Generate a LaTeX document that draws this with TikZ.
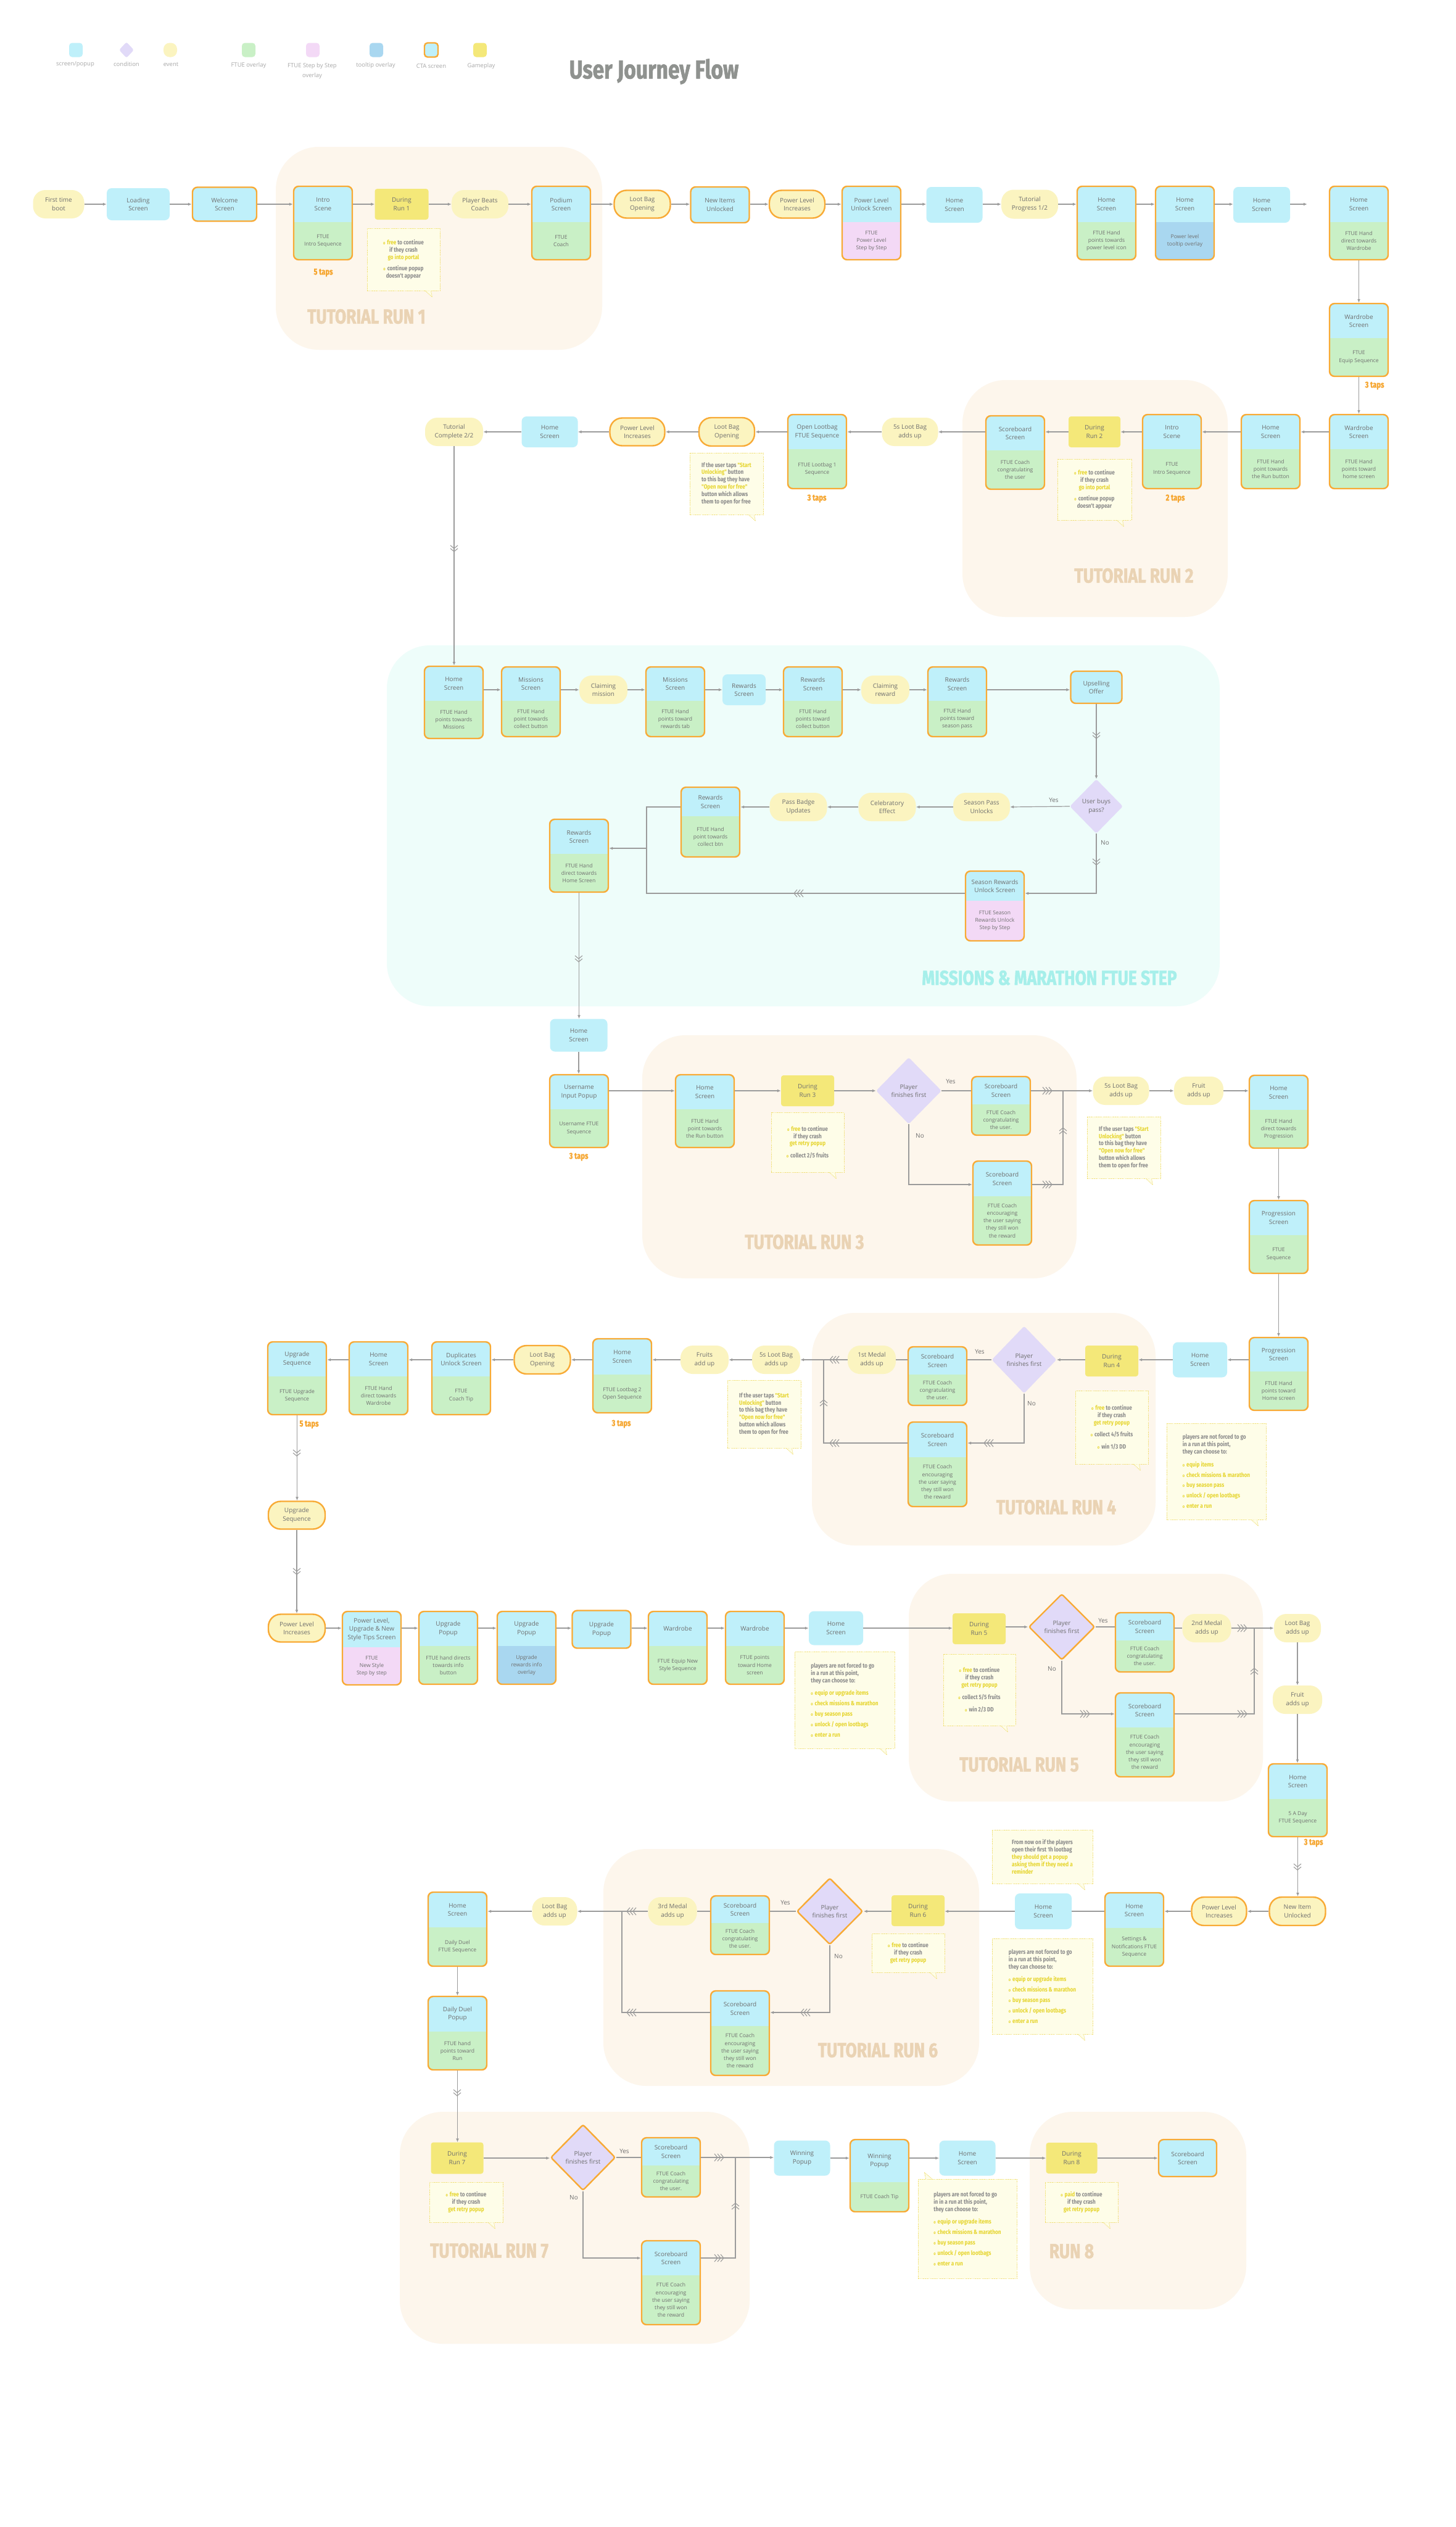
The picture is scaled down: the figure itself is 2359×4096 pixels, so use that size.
\documentclass[tikz,border=0pt]{standalone}
\usepackage{fontspec}
\setmainfont{Open Sans}
\newfontfamily\condfont[FakeStretch=0.82]{Fira Sans}
\newfontfamily\headfont[FakeStretch=0.8,FakeBold=1.5]{Fira Sans}
\usetikzlibrary{shapes.geometric,arrows.meta}

\definecolor{cScr}{HTML}{BFF0FA}
\definecolor{cFtue}{HTML}{C9F0C6}
\definecolor{cPink}{HTML}{F3D9F6}
\definecolor{cTip}{HTML}{A9D7F0}
\definecolor{cEvt}{HTML}{FBF4C0}
\definecolor{cGame}{HTML}{F4E879}
\definecolor{cCond}{HTML}{E1DAF8}
\definecolor{cCta}{HTML}{F8AA35}
\definecolor{cLine}{HTML}{9B9B9B}
\definecolor{cRunBg}{HTML}{FDF6EC}
\definecolor{cMisBg}{HTML}{EEFDFA}
\definecolor{cNoteF}{HTML}{FEFDE8}
\definecolor{cNoteB}{HTML}{F0DE70}
\definecolor{cTxt}{HTML}{6F6F6F}
\definecolor{cHl}{HTML}{E6D52E}
\definecolor{cNoteT}{HTML}{8A8A8A}
\definecolor{cRunL}{HTML}{EAD3B4}
\definecolor{cMisL}{HTML}{A6EFEA}
\definecolor{cTaps}{HTML}{F6A630}
\definecolor{cTitle}{HTML}{8F928F}
\definecolor{cLeg}{HTML}{A9A9A9}

\newcommand{\ttlf}{\fontsize{10}{13.5}\selectfont}
\newcommand{\dscf}{\fontsize{8.6}{12.2}\selectfont}
\newcommand{\notefnt}{\condfont\bfseries\fontsize{10}{11.8}\selectfont}
\newcommand{\bul}{{\color{cHl}\fontsize{7}{7}\selectfont o}\hspace{3pt}}
\newcommand{\hlt}[1]{{\color{cHl}#1}}

\tikzset{
 base/.style={inner sep=0pt, align=center, text=cTxt, font=\ttlf},
 scrn/.style={base, fill=cScr, rounded corners=8pt},
 evt/.style={base, fill=cEvt, rounded corners=20pt},
 game/.style={base, fill=cGame, rounded corners=4pt},
 cond/.style={base, diamond, fill=cCond, rounded corners=3pt},
 cta/.style={draw=cCta, line width=2.4pt},
 nob/.style={},
 dsc/.style={base, font=\dscf},
 conn/.style={draw=cLine, line width=1.2pt},
 arr/.style={conn, -{Latex[length=6pt,width=5pt]}},
 notebox/.style={fill=cNoteF, draw=cNoteB, line width=0.9pt, dash pattern=on 1.6pt off 1.2pt, inner sep=0pt},
 notetxt/.style={inner sep=0pt, text=cNoteT, font=\notefnt},
 taps/.style={text=cTaps, font=\headfont\bfseries\fontsize{14}{14}\selectfont},
 runlbl/.style={text=cRunL, font=\headfont\bfseries\fontsize{33}{33}\selectfont},
 yn/.style={text=cTxt, font=\ttlf},
 leg/.style={text=cLeg, font=\fontsize{9.5}{16}\selectfont, align=center},
 legsw/.style={inner sep=0pt, minimum width=22pt, minimum height=23pt, rounded corners=5pt},
}

% two-part box: name, left x, top y, mid y, bottom y, bottom colour, title, description, border
\newcommand{\twobox}[9]{%
  \begin{scope}
    \clip[rounded corners=8pt] (#2,#3) rectangle ({#2+95},#5);
    \fill[cScr] (#2,#3) rectangle ({#2+95},#4);
    \fill[#6] (#2,#4) rectangle ({#2+95},#5);
  \end{scope}
  \node[#9, rounded corners=8pt, inner sep=0pt, minimum width=95pt, minimum height={#5-#3}] (#1) at ({#2+47.5},{(#3+#5)/2}) {};
  \node[base, minimum width=95pt, minimum height={#4-#3}] (#1h) at ({#2+47.5},{(#3+#4)/2}) {#7};
  \node[dsc] at ({#2+47.5},{(#4+#5)/2}) {#8};
}
% single box: name, style, cx, cy, w, h, text
\newcommand{\onebx}[7]{\node[#2, minimum width=#5pt, minimum height=#6pt] (#1) at (#3,#4) {#7};}
% note: name, x1, y1, x2, y2, align, text
\newcommand{\notebx}[7]{%
  \node[notebox, minimum width={#4-#2}, minimum height={#5-#3}] (#1) at ({(#2+#4)/2},{(#3+#5)/2}) {};
  \node[notetxt, #6] at (#1.center) {#7};
}
\newcommand{\tailbr}[1]{\draw[cNoteB, line width=0.8pt, dash pattern=on 1.5pt off 1pt, fill=cNoteF] ([xshift=-24pt]#1.south east) -- ([xshift=-13pt,yshift=-10pt]#1.south east) -- ([xshift=-15pt]#1.south east);}
\newcommand{\tailtl}[1]{\draw[cNoteB, line width=0.8pt, dash pattern=on 1.5pt off 1pt, fill=cNoteF] ([xshift=13pt]#1.north west) -- ([xshift=11pt,yshift=10pt]#1.north west) -- ([xshift=23pt]#1.north west);}
% chevron marks: x, y, rotation, count
\newcommand{\chv}[4]{\begin{scope}[shift={(#1,#2)},rotate=#3]\foreach \k in {1,...,#4}{\draw[cLine,line width=1.1pt] ({(\k-1)*5-6},-6) -- ({(\k-1)*5-1},0) -- ({(\k-1)*5-6},6);}\end{scope}}

\newcommand{\noteA}{\bul\hlt{free} to continue\\ if they crash\\ \hlt{go into portal}\\[6pt] \bul continue popup\\ doesn't appear}
\newcommand{\noteC}{If the user taps \hlt{"Start}\\ \hlt{Unlocking"} button\\ to this bag they have\\ \hlt{"Open now for free"}\\ button which allows\\ them to open for free}
\newcommand{\retry}{\bul\hlt{free} to continue\\ if they crash\\ \hlt{get retry popup}}
\newcommand{\congr}{FTUE Coach\\congratulating\\the user.}
\newcommand{\encour}{FTUE Coach\\encouraging\\the user saying\\they still won\\the reward}

\begin{document}
\begin{tikzpicture}[x=1pt,y=-1pt]
\useasboundingbox (0,0) rectangle (2359,4096);
\fill[white] (0,0) rectangle (2359,4096);

% ---------- backgrounds ----------
\fill[cRunBg, rounded corners=70pt] (447,238) rectangle (976,567);
\fill[cRunBg, rounded corners=70pt] (1560,616) rectangle (1990,1000);
\fill[cMisBg, rounded corners=70pt] (627,1046) rectangle (1977,1631);
\fill[cRunBg, rounded corners=70pt] (1041,1678) rectangle (1745,2072);
\fill[cRunBg, rounded corners=70pt] (1316,2128) rectangle (1873,2505);
\fill[cRunBg, rounded corners=70pt] (1473,2551) rectangle (2047,2920);
\fill[cRunBg, rounded corners=70pt] (978,2997) rectangle (1587,3381);
\fill[cRunBg, rounded corners=70pt] (648,3423) rectangle (1215,3799);
\fill[cRunBg, rounded corners=70pt] (1669,3423) rectangle (2020,3743);

\node[runlbl] at (594,513) {TUTORIAL RUN 1};
\node[runlbl] at (1838,933) {TUTORIAL RUN 2};
\node[text=cMisL, font=\headfont\bfseries\fontsize{33}{33}\selectfont] at (1701,1585) {MISSIONS \& MARATHON FTUE STEP};
\node[runlbl] at (1304,2013) {TUTORIAL RUN 3};
\node[runlbl] at (1712,2443) {TUTORIAL RUN 4};
\node[runlbl] at (1652,2860) {TUTORIAL RUN 5};
\node[runlbl] at (1423,3323) {TUTORIAL RUN 6};
\node[runlbl] at (793,3648) {TUTORIAL RUN 7};
\node[runlbl] at (1737,3649) {RUN 8};

% ---------- legend & title ----------
\node[legsw, fill=cScr] (lg1) at (123,81) {};
\node[cond, minimum width=24pt, minimum height=26pt] (lg2) at (205,81) {};
\node[legsw, fill=cEvt, rounded corners=10pt] (lg3) at (276,81) {};
\node[legsw, fill=cFtue] (lg4) at (403,81) {};
\node[legsw, fill=cPink] (lg5) at (507,81) {};
\node[legsw, fill=cTip] (lg6) at (610,81) {};
\node[legsw, fill=cScr, cta] (lg7) at (699,81) {};
\node[legsw, fill=cGame] (lg8) at (778,81) {};
\node[leg] at (122,104) {screen/popup};
\node[leg] at (205,104) {condition};
\node[leg] at (277,104) {event};
\node[leg] at (403,106) {FTUE overlay};
\node[leg, anchor=north] at (506,99) {FTUE Step by Step\\overlay};
\node[leg] at (609,106) {tooltip overlay};
\node[leg] at (699,107) {CTA screen};
\node[leg] at (780,107) {Gameplay};
\node[text=cTitle, font=\headfont\bfseries\fontsize{42}{42}\selectfont] (title) at (1060,116) {User Journey Flow};

% ---------- row 1 ----------
\onebx{boot}{evt}{95}{331}{83}{46}{First time\\boot}
\onebx{loading}{scrn}{224}{331}{102}{52}{Loading\\Screen}
\onebx{welcome}{scrn,cta}{364}{331}{104}{55}{Welcome\\Screen}
\twobox{intro1}{476}{302}{360}{421}{cFtue}{Intro\\Scene}{FTUE\\Intro Sequence}{cta}
\onebx{run1}{game}{651}{331}{87}{50}{During\\Run 1}
\onebx{beats}{evt}{778}{331}{92}{46}{Player Beats\\Coach}
\twobox{podium}{862}{302}{360}{421}{cFtue}{Podium\\Screen}{FTUE\\Coach}{cta}
\onebx{lootbag1}{evt,cta}{1041}{331}{91}{45}{Loot Bag\\Opening}
\onebx{newitems}{scrn,cta}{1167}{332}{95}{58}{New Items\\Unlocked}
\onebx{power1}{evt,cta}{1292}{331}{90}{45}{Power Level\\Increases}
\twobox{plunlock}{1365}{302}{360}{421}{cPink}{Power Level\\Unlock Screen}{FTUE\\Power Level\\Step by Step}{cta}
\onebx{home1}{scrn}{1547}{332}{91}{58}{Home\\Screen}
\onebx{progress}{evt}{1669}{331}{92}{47}{Tutorial\\Progress 1/2}
\twobox{home2}{1746}{302}{360}{421}{cFtue}{Home\\Screen}{FTUE Hand\\points towards\\power level icon}{cta}
\twobox{home3}{1873}{302}{360}{421}{cTip}{Home\\Screen}{Power level\\tooltip overlay}{cta}
\onebx{home4}{scrn}{2045}{332}{92}{58}{Home\\Screen}
\twobox{home5}{2155}{302}{360}{421}{cFtue}{Home\\Screen}{FTUE Hand\\direct towards\\Wardrobe}{cta}
\twobox{wardrobe1}{2155}{492}{548}{610}{cFtue}{Wardrobe\\Screen}{FTUE\\Equip Sequence}{cta}
\node[taps] at (524,442) {5 taps};
\node[taps] at (2228,625) {3 taps};
\notebx{n1}{595}{370}{713}{471}{align=center}{\noteA}
\tailbr{n1}

% ---------- row 2 ----------
\twobox{wardrobe2}{2155}{672}{728}{792}{cFtue}{Wardrobe\\Screen}{FTUE Hand\\points toward\\home screen}{cta}
\twobox{home6}{2012}{672}{728}{792}{cFtue}{Home\\Screen}{FTUE Hand\\point towards\\the Run button}{cta}
\twobox{intro2}{1852}{672}{728}{792}{cFtue}{Intro\\Scene}{FTUE\\Intro Sequence}{cta}
\onebx{run2}{game}{1774}{700}{84}{50}{During\\Run 2}
\twobox{score2}{1598}{674}{730}{793}{cFtue}{Scoreboard\\Screen}{FTUE Coach\\congratulating\\the user}{cta}
\onebx{loot5s2}{evt}{1475}{700}{91}{46}{5s Loot Bag\\adds up}
\twobox{openloot}{1277}{672}{728}{792}{cFtue}{Open Lootbag\\FTUE Sequence}{FTUE Lootbag 1\\Sequence}{cta}
\onebx{lootbag2}{evt,cta}{1178}{700}{90}{46}{Loot Bag\\Opening}
\onebx{power2}{evt,cta}{1033}{700}{89}{45}{Power Level\\Increases}
\onebx{home7}{scrn}{891}{700}{91}{50}{Home\\Screen}
\onebx{complete}{evt}{736}{700}{94}{46}{Tutorial\\Complete 2/2}
\node[taps] at (1905,808) {2 taps};
\node[taps] at (1324,808) {3 taps};
\notebx{n2}{1714}{744}{1834}{843}{align=center}{\noteA}
\tailbr{n2}
\notebx{n3}{1118}{734}{1237}{834}{align=left}{\noteC}
\tailbr{n3}

% ---------- missions ----------
\twobox{mhome}{688}{1080}{1136}{1197}{cFtue}{Home\\Screen}{FTUE Hand\\points towards\\Missions}{cta}
\twobox{miss1}{813}{1081}{1136}{1194}{cFtue}{Missions\\Screen}{FTUE Hand\\point towards\\collect button}{cta}
\onebx{claimm}{evt}{978}{1118}{78}{46}{Claiming\\mission}
\twobox{miss2}{1047}{1081}{1136}{1194}{cFtue}{Missions\\Screen}{FTUE Hand\\points toward\\rewards tab}{cta}
\onebx{rew1}{scrn}{1206}{1118}{70}{50}{Rewards\\Screen}
\twobox{rew2}{1270}{1081}{1136}{1194}{cFtue}{Rewards\\Screen}{FTUE Hand\\points toward\\collect button}{cta}
\onebx{claimr}{evt}{1435}{1118}{78}{46}{Claiming\\reward}
\twobox{rew3}{1504}{1081}{1136}{1194}{cFtue}{Rewards\\Screen}{FTUE Hand\\points toward\\season pass}{cta}
\onebx{upsell}{scrn,cta}{1777}{1114}{83}{52}{Upselling\\Offer}
\onebx{buys}{cond}{1777}{1307}{86}{88}{User buys\\pass?}
\onebx{spass}{evt}{1591}{1308}{92}{46}{Season Pass\\Unlocks}
\onebx{celeb}{evt}{1438}{1308}{93}{46}{Celebratory\\Effect}
\onebx{badge}{evt}{1294}{1308}{93}{46}{Pass Badge\\Updates}
\twobox{rew4}{1104}{1276}{1323}{1389}{cFtue}{Rewards\\Screen}{FTUE Hand\\point towards\\collect btn}{cta}
\twobox{rew5}{891}{1328}{1384}{1446}{cFtue}{Rewards\\Screen}{FTUE Hand\\direct towards\\Home Screen}{cta}
\twobox{season}{1565}{1412}{1460}{1525}{cPink}{Season Rewards\\Unlock Screen}{FTUE Season\\Rewards Unlock\\Step by Step}{cta}
\node[yn] at (1708,1297) {Yes};
\node[yn] at (1791,1366) {No};

% ---------- run 3 ----------
\onebx{home8}{scrn}{938}{1678}{93}{53}{Home\\Screen}
\twobox{username}{891}{1742}{1798}{1860}{cFtue}{Username\\Input Popup}{Username FTUE\\Sequence}{cta}
\twobox{home9}{1095}{1742}{1798}{1860}{cFtue}{Home\\Screen}{FTUE Hand\\point towards\\the Run button}{cta}
\onebx{run3}{game}{1309}{1768}{86}{50}{During\\Run 3}
\onebx{d3}{cond}{1473}{1768}{106}{108}{Player\\finishes first}
\twobox{s3a}{1575}{1745}{1790}{1840}{cFtue}{Scoreboard\\Screen}{\congr}{cta}
\twobox{s3b}{1577}{1882}{1939}{2018}{cFtue}{Scoreboard\\Screen}{\encour}{cta}
\onebx{loot5s3}{evt}{1817}{1768}{91}{46}{5s Loot Bag\\adds up}
\onebx{fruit3}{evt}{1943}{1768}{80}{46}{Fruit\\adds up}
\twobox{home10}{2025}{1743}{1799}{1861}{cFtue}{Home\\Screen}{FTUE Hand\\direct towards\\Progression}{cta}
\twobox{prog1}{2025}{1946}{2002}{2064}{cFtue}{Progression\\Screen}{FTUE\\Sequence}{cta}
\node[taps] at (938,1875) {3 taps};
\notebx{n4}{1250}{1803}{1368}{1900}{align=center}{\retry\\[8pt] \bul collect 2/5 fruits}
\tailbr{n4}
\notebx{n5}{1762}{1810}{1881}{1910}{align=left}{\noteC}
\tailbr{n5}
\node[yn] at (1541,1753) {Yes};
\node[yn] at (1491,1841) {No};

% ---------- run 4 ----------
\twobox{prog2}{2025}{2168}{2223}{2286}{cFtue}{Progression\\Screen}{FTUE Hand\\points toward\\Home screen}{cta}
\onebx{home11}{scrn}{1945}{2204}{88}{57}{Home\\Screen}
\onebx{run4}{game}{1802}{2206}{86}{50}{During\\Run 4}
\onebx{d4}{cond}{1660}{2204}{105}{109}{Player\\finishes first}
\twobox{s4a}{1472}{2183}{2228}{2278}{cFtue}{Scoreboard\\Screen}{\congr}{cta}
\twobox{s4b}{1472}{2305}{2362}{2442}{cFtue}{Scoreboard\\Screen}{\encour}{cta}
\onebx{medal1}{evt}{1413}{2204}{78}{46}{1st Medal\\adds up}
\onebx{loot5s4}{evt}{1258}{2204}{78}{46}{5s Loot Bag\\adds up}
\onebx{fruits4}{evt}{1142}{2204}{78}{46}{Fruits\\add up}
\twobox{home12}{961}{2170}{2228}{2290}{cFtue}{Home\\Screen}{FTUE Lootbag 2\\Open Sequence}{cta}
\onebx{lootbag3}{evt,cta}{879}{2204}{91}{46}{Loot Bag\\Opening}
\twobox{dup}{700}{2175}{2231}{2293}{cFtue}{Duplicates\\Unlock Screen}{FTUE\\Coach Tip}{cta}
\twobox{home13}{566}{2175}{2231}{2293}{cFtue}{Home\\Screen}{FTUE Hand\\direct towards\\Wardrobe}{cta}
\twobox{upg1}{434}{2175}{2231}{2293}{cFtue}{Upgrade\\Sequence}{FTUE Upgrade\\Sequence}{cta}
\onebx{upg2}{evt,cta}{481}{2456}{92}{45}{Upgrade\\Sequence}
\node[taps] at (1007,2308) {3 taps};
\node[taps] at (501,2309) {5 taps};
\notebx{n6}{1743}{2254}{1861}{2373}{align=center}{\retry\\[8pt] \bul collect 4/5 fruits\\[8pt] \bul win 1/3 DD}
\tailbr{n6}
\notebx{n7}{1179}{2237}{1298}{2347}{align=left}{\noteC}
\tailbr{n7}
\notebx{n8}{1891}{2307}{2052}{2463}{align=left}{players are not forced to go\\ in a run at this point,\\ they can choose to:\\[9pt] \bul\hlt{equip items}\\[5pt] \bul\hlt{check missions \& marathon}\\[5pt] \bul\hlt{buy season pass}\\[5pt] \bul\hlt{unlock / open lootbags}\\[5pt] \bul\hlt{enter a run}}
\tailbr{n8}
\node[yn] at (1588,2191) {Yes};
\node[yn] at (1672,2275) {No};

% ---------- row 5 ----------
\onebx{power3}{evt,cta}{481}{2639}{92}{45}{Power Level\\Increases}
\twobox{tips}{555}{2612}{2670}{2731}{cPink}{Power Level,\\Upgrade \& New\\Style Tips Screen}{FTUE\\New Style\\Step by step}{cta}
\twobox{up1}{679}{2612}{2668}{2730}{cFtue}{Upgrade\\Popup}{FTUE hand directs\\towards info\\button}{cta}
\twobox{up2}{806}{2612}{2668}{2730}{cTip}{Upgrade\\Popup}{Upgrade\\rewards info\\overlay}{cta}
\onebx{up3}{scrn,cta}{975}{2641}{95}{61}{Upgrade\\Popup}
\twobox{ward2}{1051}{2612}{2668}{2730}{cFtue}{Wardrobe}{FTUE Equip New\\Style Sequence}{cta}
\twobox{ward3}{1176}{2612}{2668}{2730}{cFtue}{Wardrobe}{FTUE points\\toward Home\\screen}{cta}
\onebx{home14}{scrn}{1355}{2639}{88}{55}{Home\\Screen}
\notebx{n9}{1288}{2677}{1450}{2834}{align=left}{players are not forced to go\\ in a run at this point,\\ they can choose to:\\[9pt] \bul\hlt{equip or upgrade items}\\[5pt] \bul\hlt{check missions \& marathon}\\[5pt] \bul\hlt{buy season pass}\\[5pt] \bul\hlt{unlock / open lootbags}\\[5pt] \bul\hlt{enter a run}}
\tailbr{n9}
\onebx{run5}{game}{1587}{2640}{86}{50}{During\\Run 5}
\notebx{n10}{1529}{2681}{1646}{2797}{align=center}{\retry\\[8pt] \bul collect 5/5 fruits\\[8pt] \bul win 2/3 DD}
\tailbr{n10}
\onebx{d5}{cond,cta}{1721}{2637}{107}{107}{Player\\finishes first}
\twobox{s5a}{1808}{2614}{2659}{2710}{cFtue}{Scoreboard\\Screen}{\congr}{cta}
\twobox{s5b}{1808}{2744}{2800}{2880}{cFtue}{Scoreboard\\Screen}{\encour}{cta}
\onebx{medal2}{evt}{1956}{2639}{79}{46}{2nd Medal\\adds up}
\onebx{lootup5}{evt}{2103}{2639}{76}{46}{Loot Bag\\adds up}
\onebx{fruit5}{evt}{2103}{2755}{80}{46}{Fruit\\adds up}
\twobox{home15}{2056}{2859}{2916}{2977}{cFtue}{Home\\Screen}{5 A Day\\FTUE Sequence}{cta}
\node[taps] at (2129,2987) {3 taps};
\node[yn] at (1788,2627) {Yes};
\node[yn] at (1705,2705) {No};

% ---------- row 6 ----------
\notebx{n11}{1608}{2966}{1771}{3053}{align=left}{From now on if the players\\ open their first 1h lootbag\\ \hlt{they should get a popup}\\ \hlt{asking them if they need a}\\ \hlt{reminder}}
\tailbr{n11}
\onebx{newitem}{evt,cta}{2103}{3098}{91}{46}{New Item\\Unlocked}
\onebx{power4}{evt,cta}{1976}{3098}{89}{46}{Power Level\\Increases}
\twobox{home16}{1791}{3068}{3125}{3187}{cFtue}{Home\\Screen}{Settings \&\\Notifications FTUE\\Sequence}{cta}
\onebx{home17}{scrn}{1691}{3098}{92}{58}{Home\\Screen}
\notebx{n12}{1608}{3142}{1771}{3297}{align=left}{players are not forced to go\\ in a run at this point,\\ they can choose to:\\[9pt] \bul\hlt{equip or upgrade items}\\[5pt] \bul\hlt{check missions \& marathon}\\[5pt] \bul\hlt{buy season pass}\\[5pt] \bul\hlt{unlock / open lootbags}\\[5pt] \bul\hlt{enter a run}}
\tailbr{n12}
\onebx{run6}{game}{1488}{3097}{86}{50}{During\\Run 6}
\notebx{n13}{1413}{3134}{1531}{3197}{align=center}{\retry}
\tailbr{n13}
\onebx{d6}{cond,cta}{1345}{3098}{107}{108}{Player\\finishes first}
\twobox{s6a}{1152}{3073}{3117}{3168}{cFtue}{Scoreboard\\Screen}{\congr}{cta}
\twobox{s6b}{1152}{3227}{3284}{3364}{cFtue}{Scoreboard\\Screen}{\encour}{cta}
\onebx{medal3}{evt}{1090}{3098}{79}{46}{3rd Medal\\adds up}
\onebx{lootup6}{evt}{899}{3098}{73}{46}{Loot Bag\\adds up}
\twobox{home18}{694}{3067}{3124}{3187}{cFtue}{Home\\Screen}{Daily Duel\\FTUE Sequence}{cta}
\twobox{duel}{694}{3236}{3293}{3355}{cFtue}{Daily Duel\\Popup}{FTUE hand\\points toward\\Run}{cta}
\node[yn] at (1273,3084) {Yes};
\node[yn] at (1359,3171) {No};

% ---------- row 7 ----------
\onebx{run7}{game}{741}{3498}{85}{51}{During\\Run 7}
\notebx{n14}{696}{3537}{815}{3602}{align=center}{\retry}
\tailbr{n14}
\onebx{d7}{cond,cta}{945}{3497}{105}{107}{Player\\finishes first}
\twobox{s7a}{1040}{3465}{3510}{3561}{cFtue}{Scoreboard\\Screen}{\congr}{cta}
\twobox{s7b}{1040}{3632}{3688}{3768}{cFtue}{Scoreboard\\Screen}{\encour}{cta}
\onebx{win1}{scrn}{1300}{3498}{91}{57}{Winning\\Popup}
\twobox{win2}{1378}{3468}{3537}{3585}{cFtue}{Winning\\Popup}{FTUE Coach Tip}{cta}
\onebx{home19}{scrn}{1568}{3498}{91}{57}{Home\\Screen}
\notebx{n15}{1488}{3532}{1648}{3693}{align=left}{players are not forced to go\\ in in a run at this point,\\ they can choose to:\\[9pt] \bul\hlt{equip or upgrade items}\\[5pt] \bul\hlt{check missions \& marathon}\\[5pt] \bul\hlt{buy season pass}\\[5pt] \bul\hlt{unlock / open lootbags}\\[5pt] \bul\hlt{enter a run}}
\tailtl{n15}
\onebx{run8}{game}{1737}{3498}{83}{50}{During\\Run 8}
\notebx{n16}{1694}{3537}{1812}{3602}{align=center}{\bul\hlt{paid} to continue\\ if they crash\\ \hlt{get retry popup}}
\tailbr{n16}
\onebx{score8}{scrn,cta}{1925}{3498}{94}{60}{Scoreboard\\Screen}
\node[yn] at (1012,3487) {Yes};
\node[yn] at (930,3562) {No};

% ================= connectors =================
% row 1
\draw[arr] (boot.east) -- (loading.west |- boot.east);
\draw[arr] (loading.east) -- (welcome.west |- loading.east);
\draw[arr] (welcome.east) -- (intro1.west |- welcome.east);
\draw[arr] (intro1.east |- run1.west) -- (run1.west);
\draw[arr] (run1.east) -- (beats.west |- run1.east);
\draw[arr] (beats.east) -- (podium.west |- beats.east);
\draw[arr] (podium.east |- lootbag1.west) -- (lootbag1.west);
\draw[arr] (lootbag1.east) -- (newitems.west |- lootbag1.east);
\draw[arr] (newitems.east |- power1.west) -- (power1.west);
\draw[arr] (power1.east) -- (plunlock.west |- power1.east);
\draw[arr] (plunlock.east |- power1.east) -- (home1.west |- power1.east);
\draw[arr] (home1.east |- progress.west) -- (progress.west);
\draw[arr] (progress.east) -- (home2.west |- progress.east);
\draw[arr] (home2.east |- progress.east) -- (home3.west |- progress.east);
\draw[arr] (home3.east |- progress.east) -- (home4.west |- progress.east);
\draw[arr, shorten >=35pt] (home4.east |- progress.east) -- (home5.west |- progress.east);
\draw[arr] (home5.south) -- (wardrobe1.north);
\draw[arr] (wardrobe1.south) -- (wardrobe2.north);

% row 2
\draw[arr] (wardrobe2.west |- run2.east) -- (home6.east |- run2.east);
\draw[arr] (home6.west |- run2.east) -- (intro2.east |- run2.east);
\draw[arr] (intro2.west |- run2.east) -- (run2.east);
\draw[arr] (run2.west) -- (score2.east |- run2.west);
\draw[arr] (score2.west |- loot5s2.east) -- (loot5s2.east);
\draw[arr] (loot5s2.west) -- (openloot.east |- loot5s2.west);
\draw[arr] (openloot.west |- lootbag2.east) -- (lootbag2.east);
\draw[arr] (lootbag2.west) -- (power2.east);
\draw[arr] (power2.west) -- (home7.east);
\draw[arr] (home7.west) -- (complete.east);
\draw[arr] (complete.south) -- (mhome.north -| complete.south);
\chv{736}{890}{-90}{2}

% missions
\draw[arr] (mhome.east |- claimm.west) -- (miss1.west |- claimm.west);
\draw[arr] (miss1.east |- claimm.west) -- (claimm.west);
\draw[arr] (claimm.east) -- (miss2.west |- claimm.east);
\draw[arr] (miss2.east |- rew1.west) -- (rew1.west);
\draw[arr] (rew1.east) -- (rew2.west |- rew1.east);
\draw[arr] (rew2.east |- claimr.west) -- (claimr.west);
\draw[arr] (claimr.east) -- (rew3.west |- claimr.east);
\draw[arr] (rew3.east |- claimr.east) -- (upsell.west |- claimr.east);
\draw[arr] (upsell.south) -- (buys.north);
\chv{1777}{1193}{-90}{2}
\draw[arr] (buys.west) -- (spass.east);
\draw[arr] (spass.west) -- (celeb.east);
\draw[arr] (celeb.west) -- (badge.east);
\draw[arr] (badge.west) -- (rew4.east |- badge.west);
\coordinate (mj1) at (1048,1308);
\coordinate (mj2) at (1048,1375);
\coordinate (mj3) at (1048,1448);
\coordinate (mj4) at (1777,1448);
\draw[arr] (rew4.west |- badge.west) -- (mj1) -- (mj2) -- (rew5.east |- mj2);
\draw[arr] (buys.south) -- (mj4) -- (season.east |- mj4);
\draw[conn] (season.west |- mj4) -- (mj3) -- (mj2);
\chv{1777}{1398}{-90}{2}
\chv{1296}{1448}{180}{3}
\draw[arr] (rew5.south) -- (home8.north -| rew5.south);
\chv{938}{1555}{-90}{2}

% run 3
\draw[arr] (home8.south) -- (username.north -| home8.south);
\draw[arr] (username.east |- run3.west) -- (home9.west |- run3.west);
\draw[arr] (home9.east |- run3.west) -- (run3.west);
\draw[arr] (run3.east) -- (d3.west);
\draw[conn] (d3.east) -- (s3a.west |- d3.east);
\draw[arr] (s3a.east |- d3.east) -- (loot5s3.west |- d3.east);
\coordinate (r3a) at (1473,1920);
\coordinate (r3b) at (1723,1920);
\coordinate (r3c) at (1723,1768);
\draw[arr] (d3.south) -- (r3a) -- (s3b.west |- r3a);
\draw[conn] (s3b.east |- r3a) -- (r3b) -- (r3c);
\chv{1696}{1768}{0}{3}
\chv{1696}{1920}{0}{3}
\chv{1723}{1832}{90}{2}
\draw[arr] (loot5s3.east) -- (fruit3.west);
\draw[arr] (fruit3.east) -- (home10.west |- fruit3.east);
\draw[arr] (home10.south) -- (prog1.north);
\draw[arr] (prog1.south) -- (prog2.north);

% run 4
\draw[arr] (prog2.west |- home11.east) -- (home11.east);
\draw[arr] (home11.west) -- (run4.east |- home11.west);
\draw[arr] (run4.west |- d4.east) -- (d4.east);
\draw[conn] (d4.west) -- (s4a.east |- d4.west);
\draw[conn] (s4a.west |- d4.west) -- (medal1.east);
\draw[arr] (medal1.west) -- (loot5s4.east);
\coordinate (r4a) at (1660,2339);
\coordinate (r4b) at (1335,2339);
\coordinate (r4c) at (1335,2204);
\draw[arr] (d4.south) -- (r4a) -- (s4b.east |- r4a);
\draw[conn] (s4b.west |- r4a) -- (r4b) -- (r4c);
\chv{1354}{2204}{180}{3}
\chv{1604}{2339}{180}{3}
\chv{1354}{2339}{180}{3}
\chv{1335}{2273}{90}{2}
\draw[arr] (loot5s4.west) -- (fruits4.east);
\draw[arr] (fruits4.west) -- (home12.east |- fruits4.west);
\draw[arr] (home12.west |- lootbag3.east) -- (lootbag3.east);
\draw[arr] (lootbag3.west) -- (dup.east |- lootbag3.west);
\draw[arr] (dup.west |- lootbag3.west) -- (home13.east |- lootbag3.west);
\draw[arr] (home13.west |- lootbag3.west) -- (upg1.east |- lootbag3.west);
\draw[arr] (upg1.south) -- (upg2.north -| upg1.south);
\chv{481}{2356}{-90}{2}
\draw[arr] (upg2.south) -- (power3.north);
\chv{481}{2548}{-90}{2}

% row 5
\draw[arr] (power3.east) -- (tips.west |- power3.east);
\draw[arr] (tips.east |- power3.east) -- (up1.west |- power3.east);
\draw[arr] (up1.east |- power3.east) -- (up2.west |- power3.east);
\draw[arr] (up2.east |- power3.east) -- (up3.west |- power3.east);
\draw[arr] (up3.east |- power3.east) -- (ward2.west |- power3.east);
\draw[arr] (ward2.east |- power3.east) -- (ward3.west |- power3.east);
\draw[arr] (ward3.east |- power3.east) -- (home14.west |- power3.east);
\draw[arr] (home14.east) -- (run5.west |- home14.east);
\draw[arr] (run5.east |- d5.west) -- (d5.west);
\draw[conn] (d5.east) -- (s5a.west |- d5.east);
\draw[conn] (s5a.east |- medal2.west) -- (medal2.west);
\draw[arr] (medal2.east) -- (lootup5.west);
\coordinate (r5a) at (1721,2778);
\coordinate (r5b) at (2033,2778);
\coordinate (r5c) at (2033,2639);
\draw[arr] (d5.south) -- (r5a) -- (s5b.west |- r5a);
\draw[conn] (s5b.east |- r5a) -- (r5b) -- (r5c);
\chv{2012}{2639}{0}{3}
\chv{1757}{2778}{0}{3}
\chv{2012}{2778}{0}{3}
\chv{2033}{2708}{90}{2}
\draw[arr] (lootup5.south) -- (fruit5.north);
\draw[arr] (fruit5.south) -- (home15.north -| fruit5.south);
\draw[arr] (home15.south) -- (newitem.north -| home15.south);
\chv{2103}{3027}{-90}{2}

% row 6
\draw[arr] (newitem.west) -- (power4.east);
\draw[arr] (power4.west) -- (home16.east |- power4.west);
\draw[conn] (home16.west |- power4.west) -- (home17.east |- power4.west);
\draw[arr] (home17.west) -- (run6.east |- home17.west);
\draw[arr] (run6.west |- d6.east) -- (d6.east);
\draw[conn] (d6.west) -- (s6a.east |- d6.west);
\draw[conn] (s6a.west |- d6.west) -- (medal3.east);
\draw[arr] (medal3.west) -- (lootup6.east);
\draw[arr] (lootup6.west) -- (home18.east |- lootup6.west);
\coordinate (r6a) at (1345,3262);
\coordinate (r6b) at (1008,3262);
\coordinate (r6c) at (1008,3098);
\draw[arr] (d6.south) -- (r6a) -- (s6b.east |- r6a);
\draw[conn] (s6b.west |- r6a) -- (r6b) -- (r6c);
\chv{1025}{3098}{180}{3}
\chv{1307}{3262}{180}{3}
\chv{1025}{3262}{180}{3}
\draw[arr] (home18.south) -- (duel.north);
\draw[arr] (duel.south) -- (run7.north -| duel.south);
\chv{741}{3393}{-90}{2}

% row 7
\draw[arr] (run7.east) -- (d7.west |- run7.east);
\draw[conn] (d7.east) -- (s7a.west |- d7.east);
\draw[arr] (s7a.east |- d7.east) -- (win1.west |- d7.east);
\coordinate (r7a) at (945,3660);
\coordinate (r7b) at (1192,3660);
\coordinate (r7c) at (1192,3497);
\draw[arr] (d7.south) -- (r7a) -- (s7b.west |- r7a);
\draw[conn] (s7b.east |- r7a) -- (r7b) -- (r7c);
\chv{1164}{3497}{0}{3}
\chv{1164}{3660}{0}{3}
\chv{1192}{3575}{90}{2}
\draw[arr] (win1.east) -- (win2.west |- win1.east);
\draw[arr] (win2.east |- win1.east) -- (home19.west);
\draw[arr] (home19.east) -- (run8.west);
\draw[arr] (run8.east) -- (score8.west);
\end{tikzpicture}
\end{document}
